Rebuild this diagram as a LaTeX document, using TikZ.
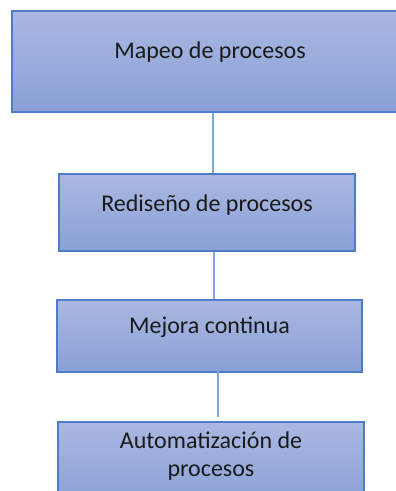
\documentclass[tikz,border=0pt]{standalone}
\usepackage{fontspec}
\setmainfont{Carlito}
\definecolor{boxtop}{HTML}{AAB8E1}
\definecolor{boxbot}{HTML}{8AA0D7}
\definecolor{boxedge}{HTML}{4F7BCB}
\definecolor{linkblue}{HTML}{7DA8DF}
\definecolor{inktext}{HTML}{1A1A1A}
\tikzset{
  stage/.style={rectangle, draw=boxedge, line width=1.4pt,
    top color=boxtop, bottom color=boxbot, inner sep=0pt},
  stagetext/.style={font=\fontsize{24}{28}\selectfont, text=inktext, align=center},
  link/.style={draw=linkblue, line width=1.8pt}
}
\begin{document}
\begin{tikzpicture}[x=1pt, y=1pt]
\useasboundingbox (0,0) rectangle (396,-491);
\clip (0,0) rectangle (396,-491);
% process stages, top to bottom
\node[stage, minimum width=396pt, minimum height=101pt,
  label={[stagetext, yshift=9.5pt]center:Mapeo de procesos}] (b1) at (210,-61.5) {};
\node[stage, minimum width=296pt, minimum height=77pt,
  label={[stagetext, yshift=7.5pt]center:Rediseño de procesos}] (b2) at (207,-212.5) {};
% connectors between stages
\coordinate (x1) at (213,0);
\coordinate (x2) at (214,0);
\draw[link] (b1.south -| x1) -- (b2.north -| x1);
\draw[link] (b2.south -| x2) -- ++(0,-49) coordinate (e2);
\node[stage, minimum width=305pt, minimum height=72pt,
  label={[stagetext, yshift=9pt]center:Mejora continua}] (b3) at (209.5,-336) {};
\node[stage, minimum width=306pt, minimum height=84pt,
  label={[stagetext, yshift=8pt]center:Automatización de\\procesos}] (b4) at (211,-464) {};
\coordinate (s3) at (218,-365);
\coordinate (e3) at (218,-417);
\draw[link] (s3) -- (e3);
\end{tikzpicture}
\end{document}
